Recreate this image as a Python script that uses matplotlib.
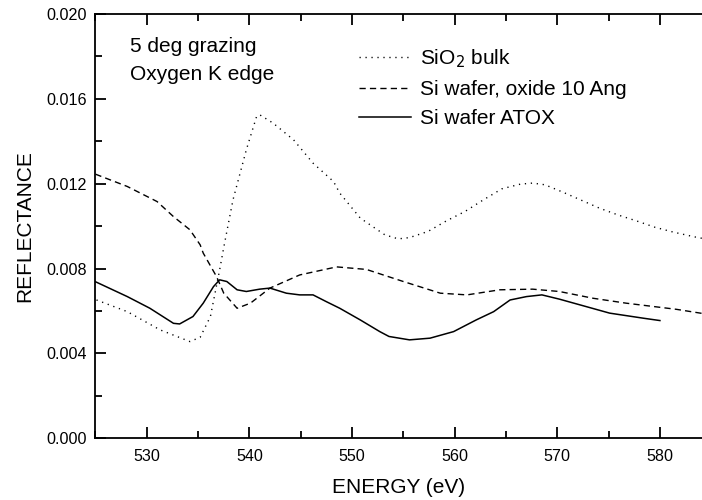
import matplotlib.pyplot as plt
from matplotlib.ticker import MultipleLocator, FormatStrFormatter

plt.rcParams['font.family'] = ['Liberation Sans', 'DejaVu Sans']

# SiO2 bulk (dotted)
sio2_e = [525.1, 528.1, 531.3, 534.2, 535.2, 536.2, 537.1, 537.5, 538.4, 539.7,
          540.7, 541.0, 542.3, 544.3, 546.2, 548.2, 548.8, 550.8, 552.1, 553.2,
          554.5, 555.6, 557.4, 559.2, 561.0, 562.8, 564.6, 566.4, 567.6, 568.8,
          570.6, 572.4, 574.1, 575.9, 577.7, 579.5, 581.3, 583.7, 584.2]
sio2_r = [0.00652, 0.00597, 0.00511, 0.00456, 0.00476, 0.00574, 0.00794, 0.00900, 0.01124, 0.01360,
          0.01517, 0.01525, 0.01486, 0.01407, 0.01297, 0.01210, 0.01156, 0.01038, 0.00995, 0.00959,
          0.00940, 0.00946, 0.00975, 0.01025, 0.01069, 0.01124, 0.01176, 0.01198, 0.01203, 0.01195,
          0.01159, 0.01121, 0.01085, 0.01053, 0.01025, 0.00995, 0.00972, 0.00946, 0.00942]

# Si wafer, oxide 10 Ang (dashed)
oxide_e = [525.0, 528.1, 531.0, 532.6, 534.2, 535.2, 535.5, 536.8, 537.5, 538.8,
           540.1, 542.0, 544.9, 548.5, 551.4, 555.0, 558.6, 561.2, 564.4, 567.6,
           570.2, 573.5, 576.7, 581.6, 584.2]
oxide_r = [0.01245, 0.01187, 0.01116, 0.01045, 0.00983, 0.00912, 0.00873, 0.00762, 0.00684, 0.00613,
           0.00637, 0.00708, 0.00770, 0.00808, 0.00796, 0.00739, 0.00684, 0.00676, 0.00700, 0.00703,
           0.00692, 0.00660, 0.00637, 0.00608, 0.00588]

# Si wafer ATOX (solid)
atox_e = [525.0, 528.1, 530.3, 532.6, 533.2, 534.5, 535.5, 536.5, 537.1, 537.8,
          538.8, 539.7, 541.0, 542.0, 543.6, 544.9, 546.2, 547.5, 548.8, 550.8,
          552.7, 553.6, 555.6, 557.6, 559.9, 562.1, 563.8, 565.4, 567.0, 568.5,
          570.2, 572.8, 575.1, 578.4, 580.0]
atox_r = [0.00738, 0.00668, 0.00613, 0.00542, 0.00539, 0.00574, 0.00637, 0.00715, 0.00747, 0.00739,
          0.00700, 0.00692, 0.00703, 0.00708, 0.00684, 0.00676, 0.00676, 0.00644, 0.00613, 0.00558,
          0.00503, 0.00480, 0.00464, 0.00472, 0.00503, 0.00558, 0.00597, 0.00652, 0.00668, 0.00676,
          0.00656, 0.00621, 0.00590, 0.00566, 0.00555]

fig = plt.figure(figsize=(7.02, 5.0), dpi=100)
ax = fig.add_axes([0.136, 0.1234, 0.864, 0.8486])

ax.plot(sio2_e, sio2_r, color='black', lw=1.0, linestyle=(0, (0.9, 3.4)),
        label='SiO$_2$ bulk')
ax.plot(oxide_e, oxide_r, color='black', lw=1.0, linestyle=(0, (4.5, 3.0)),
        label='Si wafer, oxide 10 Ang')
ax.plot(atox_e, atox_r, color='black', lw=1.1, label='Si wafer ATOX')

ax.set_xlim(525, 584.1)
ax.set_ylim(0, 0.020)
ax.xaxis.set_major_locator(MultipleLocator(10))
ax.xaxis.set_minor_locator(MultipleLocator(5))
ax.yaxis.set_major_locator(MultipleLocator(0.004))
ax.yaxis.set_minor_locator(MultipleLocator(0.002))
ax.yaxis.set_major_formatter(FormatStrFormatter('%.3f'))

ax.spines['right'].set_visible(False)
for s in ['left', 'bottom', 'top']:
    ax.spines[s].set_linewidth(1.3)
ax.tick_params(which='both', direction='in', top=True, right=False, width=1.3)
ax.tick_params(which='major', length=8, labelsize=11.6)
ax.tick_params(axis='x', which='major', pad=8)
ax.tick_params(axis='y', which='major', pad=6)
ax.tick_params(which='minor', length=5)

ax.set_xlabel('ENERGY (eV)', fontsize=15, labelpad=10)
ax.set_ylabel('REFLECTANCE', fontsize=15, labelpad=9)

ax.text(0.057, 0.945, '5 deg grazing\nOxygen K edge', transform=ax.transAxes,
        fontsize=15, va='top', ha='left', linespacing=1.55)

ax.legend(loc='upper left', bbox_to_anchor=(0.42, 0.942), frameon=False,
          fontsize=15, handlelength=2.5, handletextpad=0.45, labelspacing=0.5,
          borderaxespad=0)

fig.savefig('out.png', dpi=100)
